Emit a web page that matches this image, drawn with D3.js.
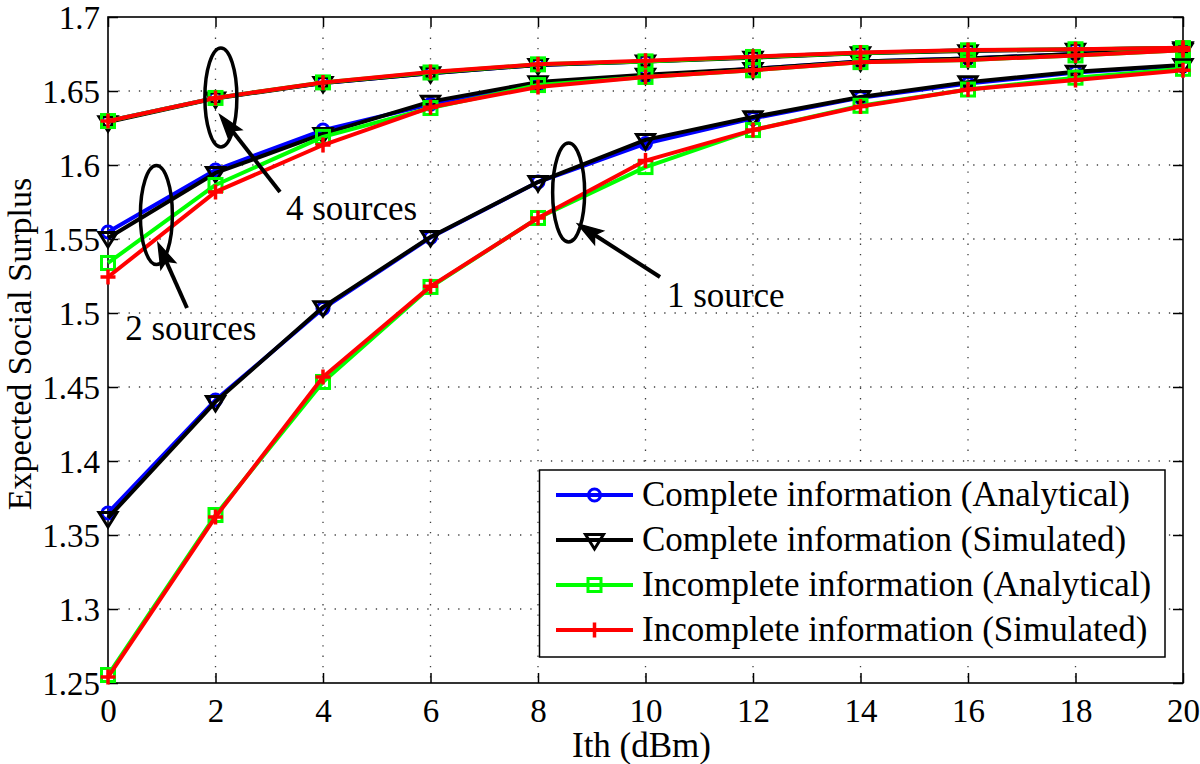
<!DOCTYPE html>
<html>
<head>
<meta charset="utf-8">
<script src="https://cdn.jsdelivr.net/npm/d3@7"></script>
<style>
  html, body { margin: 0; padding: 0; background: #fff; }
  svg { display: block; }
  text { font-family: "Liberation Serif", "Times New Roman", serif; fill: #000; }
</style>
</head>
<body>
<svg id="chart" width="1200" height="764"></svg>
<script>
// ---------------- data ----------------
const xValues = [0, 2, 4, 6, 8, 10, 12, 14, 16, 18, 20];
const xTicks = [0, 2, 4, 6, 8, 10, 12, 14, 16, 18, 20];
const yTicks = [1.25, 1.3, 1.35, 1.4, 1.45, 1.5, 1.55, 1.6, 1.65, 1.7];
const yTickLabels = ["1.25", "1.3", "1.35", "1.4", "1.45", "1.5", "1.55", "1.6", "1.65", "1.7"];

// 1 source
const completeAnalytical1   = [1.3649, 1.4412, 1.5030, 1.5510, 1.5885, 1.6145, 1.6315, 1.6455, 1.6550, 1.6625, 1.6670];
const completeSimulated1    = [1.3615, 1.4400, 1.5040, 1.5514, 1.5885, 1.6170, 1.6324, 1.6460, 1.6560, 1.6630, 1.6676];
const incompleteAnalytical1 = [1.2554, 1.3635, 1.4534, 1.5176, 1.5642, 1.5986, 1.6236, 1.6400, 1.6510, 1.6590, 1.6650];
const incompleteSimulated1  = [1.2540, 1.3622, 1.4568, 1.5180, 1.5642, 1.6030, 1.6236, 1.6395, 1.6510, 1.6575, 1.6640];
// 2 sources
const completeAnalytical2   = [1.5547, 1.5966, 1.6236, 1.6410, 1.6540, 1.6600, 1.6650, 1.6700, 1.6720, 1.6750, 1.6780];
const completeSimulated2    = [1.5507, 1.5946, 1.6210, 1.6428, 1.6560, 1.6610, 1.6650, 1.6700, 1.6720, 1.6750, 1.6780];
const incompleteAnalytical2 = [1.5338, 1.5865, 1.6190, 1.6385, 1.6540, 1.6595, 1.6640, 1.6695, 1.6710, 1.6740, 1.6775];
const incompleteSimulated2  = [1.5243, 1.5818, 1.6135, 1.6390, 1.6527, 1.6595, 1.6640, 1.6695, 1.6710, 1.6740, 1.6775];
// 4 sources
const completeAnalytical4   = [1.6297, 1.6453, 1.6554, 1.6620, 1.6676, 1.6700, 1.6730, 1.6757, 1.6775, 1.6780, 1.6790];
const completeSimulated4    = [1.6290, 1.6450, 1.6554, 1.6620, 1.6676, 1.6700, 1.6725, 1.6755, 1.6770, 1.6780, 1.6790];
const incompleteAnalytical4 = [1.6297, 1.6453, 1.6558, 1.6625, 1.6680, 1.6700, 1.6730, 1.6757, 1.6775, 1.6782, 1.6790];
const incompleteSimulated4  = [1.6297, 1.6453, 1.6558, 1.6628, 1.6680, 1.6705, 1.6732, 1.6760, 1.6777, 1.6782, 1.6792];

const legendLabels = [
  "Complete information (Analytical)",
  "Complete information (Simulated)",
  "Incomplete information (Analytical)",
  "Incomplete information (Simulated)"
];
const seriesColors = ["#0000ff", "#000000", "#00ff00", "#ff0000"];
const seriesMarkers = ["circle", "triangle", "square", "plus"];

const xLabel = "Ith (dBm)";
const yLabel = "Expected Social Surplus";

// annotations in data coordinates
const annotations = [
  { text: "4 sources", ex: 2.10, ey: 1.6456, tailX: 3.20, tailY: 1.5818, tipX: 2.08, tipY: 1.6338, tx: 3.31, ty: 1.5628 },
  { text: "2 sources", ex: 0.90, ey: 1.5662, tailX: 1.47, tailY: 1.5034, tipX: 0.93, tipY: 1.5473, tx: 0.32, ty: 1.4818 },
  { text: "1 source",  ex: 8.57, ey: 1.5814, tailX: 10.27, tailY: 1.5243, tipX: 8.74, tipY: 1.5601, tx: 10.40, ty: 1.5040 }
];

// ---------------- layout ----------------
const svg = d3.select("#chart");
const plot = { left: 108, right: 1183, top: 17, bottom: 683 };
const x = d3.scaleLinear().domain([0, 20]).range([plot.left, plot.right]);
const y = d3.scaleLinear().domain([1.25, 1.7]).range([plot.bottom, plot.top]);

// grid
const grid = svg.append("g");
grid.selectAll(".gx").data(xTicks.slice(1, -1)).enter().append("line")
  .attr("x1", d => x(d)).attr("x2", d => x(d))
  .attr("y1", plot.top).attr("y2", plot.bottom)
  .attr("stroke", "#000").attr("stroke-width", 1.3).attr("stroke-dasharray", "1.3,9")
  .attr("opacity", 0.75);
grid.selectAll(".gy").data(yTicks.slice(1, -1)).enter().append("line")
  .attr("y1", d => y(d)).attr("y2", d => y(d))
  .attr("x1", plot.left).attr("x2", plot.right)
  .attr("stroke", "#000").attr("stroke-width", 1.3).attr("stroke-dasharray", "1.3,9")
  .attr("opacity", 0.75);

// axes (ticks inward, MATLAB style with box)
const tickLen = 10;
const axB = svg.append("g").attr("transform", `translate(0,${plot.bottom})`)
  .call(d3.axisBottom(x).tickValues(xTicks).tickSizeInner(-tickLen).tickSizeOuter(0).tickPadding(16).tickFormat(d3.format("d")));
const axT = svg.append("g").attr("transform", `translate(0,${plot.top})`)
  .call(d3.axisTop(x).tickValues(xTicks).tickSizeInner(-tickLen).tickSizeOuter(0).tickFormat(""));
const axL = svg.append("g").attr("transform", `translate(${plot.left},0)`)
  .call(d3.axisLeft(y).tickValues(yTicks).tickSizeInner(-tickLen).tickSizeOuter(0).tickPadding(8)
    .tickFormat((d, i) => yTickLabels[i]));
const axR = svg.append("g").attr("transform", `translate(${plot.right},0)`)
  .call(d3.axisRight(y).tickValues(yTicks).tickSizeInner(-tickLen).tickSizeOuter(0).tickFormat(""));
[axB, axT, axL, axR].forEach(a => {
  a.attr("font-family", '"Liberation Serif", serif').attr("font-size", 33);
  a.select(".domain").remove();
  a.selectAll(".tick line").attr("stroke", "#000").attr("stroke-width", 1.5);
  a.selectAll("text").style("font-family", '"Liberation Serif", serif').style("font-size", "33px").attr("fill", "#000");
});
axB.selectAll("text").attr("dy", "0.71em");
axL.selectAll("text").attr("dy", "0.34em");

svg.append("rect")
  .attr("x", plot.left).attr("y", plot.top)
  .attr("width", plot.right - plot.left).attr("height", plot.bottom - plot.top)
  .attr("fill", "none").attr("stroke", "#000").attr("stroke-width", 1.6);

// labels
svg.append("text").attr("x", x(10) - 4).attr("y", 757).attr("text-anchor", "middle")
  .style("font-size", "35px").text(xLabel);
svg.append("text").attr("transform", `translate(31,${(plot.top + plot.bottom) / 2 - 6}) rotate(-90)`)
  .attr("text-anchor", "middle").style("font-size", "34px").text(yLabel);

// ---------------- series ----------------
const groups = [
  [completeAnalytical1, completeSimulated1, incompleteAnalytical1, incompleteSimulated1],
  [completeAnalytical2, completeSimulated2, incompleteAnalytical2, incompleteSimulated2],
  [completeAnalytical4, completeSimulated4, incompleteAnalytical4, incompleteSimulated4]
];

const line = d3.line().x((d, i) => x(xValues[i])).y(d => y(d));

function drawMarker(g, type, cx, cy, color) {
  const sw = 3;
  if (type === "circle") {
    g.append("circle").attr("cx", cx).attr("cy", cy).attr("r", 6)
      .attr("fill", "none").attr("stroke", color).attr("stroke-width", sw);
  } else if (type === "triangle") {
    const s = 9;
    g.append("path")
      .attr("d", `M${cx - s},${cy - s * 0.6}L${cx + s},${cy - s * 0.6}L${cx},${cy + s}Z`)
      .attr("fill", "none").attr("stroke", color).attr("stroke-width", sw).attr("stroke-linejoin", "miter");
  } else if (type === "square") {
    const s = 6.5;
    g.append("rect").attr("x", cx - s).attr("y", cy - s).attr("width", 2 * s).attr("height", 2 * s)
      .attr("fill", "none").attr("stroke", color).attr("stroke-width", sw);
  } else if (type === "plus") {
    const s = 7.5;
    g.append("path").attr("d", `M${cx - s},${cy}L${cx + s},${cy}M${cx},${cy - s}L${cx},${cy + s}`)
      .attr("stroke", color).attr("stroke-width", sw + 0.5).attr("fill", "none");
  }
}

const seriesLayer = svg.append("g");
for (let s = 0; s < 4; s++) {
  groups.forEach(grp => {
    const vals = grp[s];
    const g = seriesLayer.append("g");
    g.append("path").datum(vals).attr("d", line)
      .attr("fill", "none").attr("stroke", seriesColors[s]).attr("stroke-width", 4)
      .attr("stroke-linejoin", "round");
    vals.forEach((v, i) => drawMarker(g, seriesMarkers[s], x(xValues[i]), y(v), seriesColors[s]));
  });
}

// ---------------- annotations ----------------
const ann = svg.append("g");
annotations.forEach(a => {
  ann.append("ellipse").attr("cx", x(a.ex)).attr("cy", y(a.ey)).attr("rx", 16).attr("ry", 49.5)
    .attr("fill", "none").attr("stroke", "#000").attr("stroke-width", 3.5);
  const x1 = x(a.tailX), y1 = y(a.tailY), x2 = x(a.tipX), y2 = y(a.tipY);
  const ang = Math.atan2(y2 - y1, x2 - x1);
  const hl = 20, hw = 8;
  const bx = x2 - hl * Math.cos(ang), by = y2 - hl * Math.sin(ang);
  ann.append("line").attr("x1", x1).attr("y1", y1).attr("x2", bx + 4 * Math.cos(ang)).attr("y2", by + 4 * Math.sin(ang))
    .attr("stroke", "#000").attr("stroke-width", 4);
  const px = -Math.sin(ang), py = Math.cos(ang);
  const back = 5;
  ann.append("path")
    .attr("d", `M${x2},${y2}L${bx + hw * px - back * Math.cos(ang)},${by + hw * py - back * Math.sin(ang)}L${bx},${by}L${bx - hw * px - back * Math.cos(ang)},${by - hw * py - back * Math.sin(ang)}Z`)
    .attr("fill", "#000").attr("stroke", "#000").attr("stroke-width", 1.5);
  ann.append("text").attr("x", x(a.tx)).attr("y", y(a.ty)).style("font-size", "35px").text(a.text);
});

// ---------------- legend ----------------
const leg = svg.append("g");
const legBox = { x: 539.5, y: 470, w: 625.5, h: 187 };
leg.append("rect").attr("x", legBox.x).attr("y", legBox.y).attr("width", legBox.w).attr("height", legBox.h)
  .attr("fill", "#fff").attr("stroke", "#000").attr("stroke-width", 1.5);
legendLabels.forEach((lab, i) => {
  const cy = 495 + i * 45;
  leg.append("line").attr("x1", 556).attr("x2", 633).attr("y1", cy).attr("y2", cy)
    .attr("stroke", seriesColors[i]).attr("stroke-width", 4);
  drawMarker(leg, seriesMarkers[i], 594.5, cy, seriesColors[i]);
  leg.append("text").attr("x", 642).attr("y", cy + 11).style("font-size", "35px").text(lab);
});
</script>
</body>
</html>
